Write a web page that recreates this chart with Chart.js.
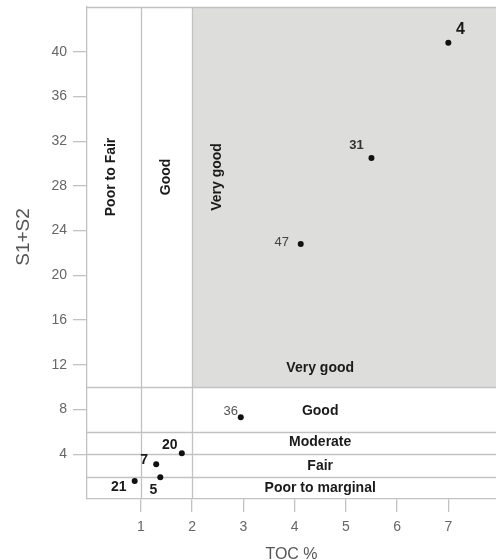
<!DOCTYPE html>
<html>
<head>
<meta charset="utf-8">
<script src="https://cdn.jsdelivr.net/npm/chart.js@4/dist/chart.umd.min.js"></script>
<style>
  html, body { margin: 0; padding: 0; background: #fff; }
  canvas { display: block; }
</style>
</head>
<body>
<canvas id="c" width="496" height="560"></canvas>
<script>
// Samples: TOC (wt %) against S1+S2 (mg HC/g rock)
const sampleIds = ['4', '31', '47', '36', '20', '7', '5', '21'];
const tocValues = [7.0, 5.5, 4.12, 2.95, 1.80, 1.30, 1.38, 0.88];
const s1s2Values = [40.8, 30.5, 22.8, 7.3, 4.1, 3.1, 1.95, 1.6];

// Axis ticks
const xTickValues = [1, 2, 3, 4, 5, 6, 7];
const yTickValues = [4, 8, 12, 16, 20, 24, 28, 32, 36, 40];

// Classification boundaries
const tocBounds = [1, 2];
const s1s2Bounds = [2, 4, 6, 10];
const tocZoneNames = ['Poor to Fair', 'Good', 'Very good'];
const potentialZoneNames = ['Very good', 'Good', 'Moderate', 'Fair', 'Poor to marginal'];

const FONT = "'Liberation Sans', Arial, Helvetica, sans-serif";
Chart.defaults.font.family = FONT;

// Where the zone names sit, in axis units
const tocZoneAnchors = [{ x: 0.42, y: 28.8 }, { x: 1.5, y: 28.8 }, { x: 2.49, y: 28.8 }];
const potentialZoneAnchors = [
  { x: 4.5, y: 11.67 }, { x: 4.5, y: 7.83 }, { x: 4.5, y: 5.05 }, { x: 4.5, y: 2.9 }, { x: 4.5, y: 0.93 }
];
// Sample label offsets from their dots, in pixels, plus per-label styling
const labelOffsets = [[12, -13], [-15, -13], [-19, -2], [-10, -6], [-12, -8], [-12, -4], [-7, 13], [-16, 6]];
const labelStyles = [
  { size: 16, weight: 'bold', color: '#1a1a1a' },
  { size: 13, weight: 'bold', color: '#333' },
  { size: 13, weight: 'normal', color: '#444' },
  { size: 13, weight: 'normal', color: '#555' },
  { size: 14, weight: 'bold', color: '#1a1a1a' },
  { size: 14, weight: 'bold', color: '#1a1a1a' },
  { size: 14, weight: 'bold', color: '#1a1a1a' },
  { size: 14, weight: 'bold', color: '#1a1a1a' }
];

const LINE = '#c2c2c2';
const Y_TITLE = 'S1+S2';

const zonesPlugin = {
  id: 'zones',
  beforeDatasetsDraw(chart) {
    const { ctx, chartArea: a, scales: { x, y } } = chart;
    ctx.save();
    // shaded "very good" field
    const gx = x.getPixelForValue(tocBounds[1]);
    const gy = y.getPixelForValue(s1s2Bounds[s1s2Bounds.length - 1]);
    ctx.fillStyle = '#dddddb';
    ctx.fillRect(gx, a.top, a.right - gx, gy - a.top);

    // boundary lines
    ctx.strokeStyle = LINE;
    ctx.lineWidth = 1.3;
    ctx.beginPath();
    tocBounds.forEach(v => {
      const px = Math.round(x.getPixelForValue(v)) + 0.5;
      ctx.moveTo(px, a.top); ctx.lineTo(px, a.bottom);
    });
    s1s2Bounds.forEach(v => {
      const py = Math.round(y.getPixelForValue(v)) + 0.5;
      ctx.moveTo(a.left, py); ctx.lineTo(a.right, py);
    });
    ctx.moveTo(a.left, a.top + 0.5); ctx.lineTo(a.right, a.top + 0.5);
    ctx.stroke();

    // zone names
    ctx.fillStyle = '#1a1a1a';
    ctx.font = 'bold 14px ' + FONT;
    ctx.textAlign = 'center';
    ctx.textBaseline = 'middle';
    tocZoneNames.forEach((name, i) => {
      const px = x.getPixelForValue(tocZoneAnchors[i].x);
      const py = y.getPixelForValue(tocZoneAnchors[i].y);
      ctx.save();
      ctx.translate(px, py);
      ctx.rotate(-Math.PI / 2);
      ctx.fillText(name, 0, 0);
      ctx.restore();
    });
    potentialZoneNames.forEach((name, i) => {
      ctx.fillText(name, x.getPixelForValue(potentialZoneAnchors[i].x), y.getPixelForValue(potentialZoneAnchors[i].y));
    });

    // vertical axis title, set a little above the plot's middle
    ctx.fillStyle = '#555';
    ctx.font = '19px ' + FONT;
    ctx.save();
    ctx.translate(y.left + 24, (a.top + a.bottom) / 2 - 16);
    ctx.rotate(-Math.PI / 2);
    ctx.fillText(Y_TITLE, 0, 0);
    ctx.restore();
    ctx.restore();
  },
  afterDatasetsDraw(chart) {
    const { ctx } = chart;
    const pts = chart.getDatasetMeta(0).data;
    ctx.save();
    ctx.textAlign = 'center';
    ctx.textBaseline = 'middle';
    pts.forEach((p, i) => {
      const s = labelStyles[i];
      ctx.font = s.weight + ' ' + s.size + 'px ' + FONT;
      ctx.fillStyle = s.color;
      ctx.fillText(sampleIds[i], p.x + labelOffsets[i][0], p.y + labelOffsets[i][1]);
    });
    ctx.restore();
  }
};

new Chart(document.getElementById('c').getContext('2d'), {
  type: 'scatter',
  data: {
    datasets: [{
      data: tocValues.map((v, i) => ({ x: v, y: s1s2Values[i] })),
      pointRadius: 3,
      pointHoverRadius: 3,
      pointBackgroundColor: '#111',
      pointBorderWidth: 0
    }]
  },
  options: {
    responsive: false,
    animation: false,
    devicePixelRatio: 1,
    events: [],
    layout: { autoPadding: false, padding: { top: 7, right: 0, bottom: 0, left: 0 } },
    plugins: { legend: { display: false }, tooltip: { enabled: false } },
    scales: {
      x: {
        type: 'linear',
        min: -0.05,
        max: 7.93,
        afterBuildTicks: s => { s.ticks = xTickValues.map(v => ({ value: v })); },
        afterFit: s => { s.height = 61; s.paddingLeft = 0; s.paddingRight = 0; },
        grid: { drawOnChartArea: false, tickLength: 13, lineWidth: 1.3, color: LINE, tickColor: LINE },
        border: { display: true, color: LINE, width: 1.3 },
        ticks: { autoSkip: false, maxRotation: 0, padding: 7, color: '#666', font: { size: 14 } },
        title: { display: true, text: 'TOC %', color: '#555', font: { size: 16, lineHeight: 1 }, padding: { top: 0, bottom: -3 } }
      },
      y: {
        type: 'linear',
        min: 0,
        max: 44,
        afterBuildTicks: s => { s.ticks = yTickValues.map(v => ({ value: v })); },
        afterFit: s => { s.width = 87; s.paddingTop = 0; s.paddingBottom = 0; },
        grid: { drawOnChartArea: false, tickLength: 14, lineWidth: 1.3, color: LINE, tickColor: LINE },
        border: { display: true, color: LINE, width: 1.3 },
        ticks: { autoSkip: false, padding: 6, color: '#666', font: { size: 14 } },
        title: { display: false }
      }
    }
  },
  plugins: [zonesPlugin]
});
</script>
</body>
</html>
